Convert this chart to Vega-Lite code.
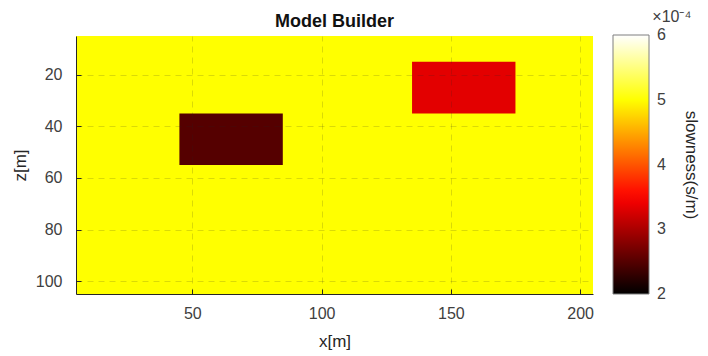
{
  "$schema": "https://vega.github.io/schema/vega-lite/v6.json",
  "width": 517,
  "height": 258,
  "autosize": {"type": "none"},
  "padding": {"left": 76, "top": 36, "right": 115, "bottom": 62},
  "background": "white",
  "title": {"text": "Model Builder", "fontSize": 18, "fontWeight": "bold", "font": "Liberation Sans", "color": "#111111", "baseline": "alphabetic", "offset": -36, "anchor": "middle", "frame": "group"},
  "config": {"view": {"stroke": null}, "font": "Liberation Sans"},
  "layer": [
    {
      "data": {"values": [
        {"x0": 5, "x1": 205, "z0": 5, "z1": 105, "slowness": 0.0005},
        {"x0": 45, "x1": 85, "z0": 35, "z1": 55, "slowness": 0.00025},
        {"x0": 135, "x1": 175, "z0": 15, "z1": 35, "slowness": 0.000333333}
      ]},
      "mark": {"type": "rect"},
      "encoding": {
        "x": {"field": "x0", "type": "quantitative",
          "scale": {"domain": [5, 205], "nice": false, "zero": false},
          "axis": {"title": "x[m]", "values": [50, 100, 150, 200], "zindex": 1, "grid": true, "gridDash": [6, 5], "gridColor": "#262626", "gridOpacity": 0.17,
            "domainColor": "#262626", "tickColor": "#262626", "tickSize": -5, "labelPadding": 16, "labelFontSize": 16, "labelColor": "#404040", "labelFont": "Liberation Sans",
            "titleFontSize": 17, "titleFontWeight": "normal", "titleColor": "#262626", "titlePadding": 12, "titleFont": "Liberation Sans"}},
        "x2": {"field": "x1"},
        "y": {"field": "z0", "type": "quantitative",
          "scale": {"domain": [5, 105], "nice": false, "zero": false, "reverse": true},
          "axis": {"title": "z[m]", "values": [20, 40, 60, 80, 100], "zindex": 1, "grid": true, "gridDash": [6, 5], "gridColor": "#262626", "gridOpacity": 0.17,
            "domainColor": "#262626", "tickColor": "#262626", "tickSize": -5, "labelPadding": 19, "labelFontSize": 16, "labelColor": "#404040", "labelFont": "Liberation Sans",
            "titleFontSize": 17, "titleFontWeight": "normal", "titleColor": "#262626", "titlePadding": 6, "titleFont": "Liberation Sans"}},
        "y2": {"field": "z1"},
        "color": {"field": "slowness", "type": "quantitative",
          "scale": {"domain": [0.0001999, 0.0006001], "interpolate": "rgb",
            "range": ["#000000", "#550000", "#aa0000", "#ff0000", "#ff5500", "#ffaa00", "#ffff00", "#ffff80", "#ffffff"]},
          "legend": {"title": "slowness(s/m)", "orient": "none", "legendX": 537, "legendY": -1, "direction": "vertical",
            "gradientLength": 259, "gradientThickness": 36, "gradientStrokeColor": "#7f7f7f", "gradientStrokeWidth": 1,
            "values": [0.0002, 0.0003, 0.0004, 0.0005, 0.0006], "labelExpr": "'' + round(datum.value * 10000)",
            "labelBaseline": "middle", "labelOverlap": false, "labelOffset": 8, "labelFontSize": 16, "labelColor": "#404040", "labelFont": "Liberation Sans",
            "titleOrient": "right", "titleAngle": 90, "titleAnchor": "middle", "titleFontSize": 17, "titleFontWeight": "normal", "titleColor": "#262626", "titlePadding": 16, "titleFont": "Liberation Sans"}}
      }
    },
    {
      "data": {"values": [{"note": "×10⁻⁴", "nx": 235.5, "nz": -2.4}]},
      "mark": {"type": "text", "clip": false, "fontSize": 16, "color": "#404040", "font": "Liberation Sans", "align": "center", "baseline": "middle"},
      "encoding": {
        "x": {"field": "nx", "type": "quantitative", "scale": {"domain": [5, 205], "nice": false, "zero": false}},
        "y": {"field": "nz", "type": "quantitative", "scale": {"domain": [5, 105], "nice": false, "zero": false, "reverse": true}},
        "text": {"field": "note"}
      }
    }
  ]
}
